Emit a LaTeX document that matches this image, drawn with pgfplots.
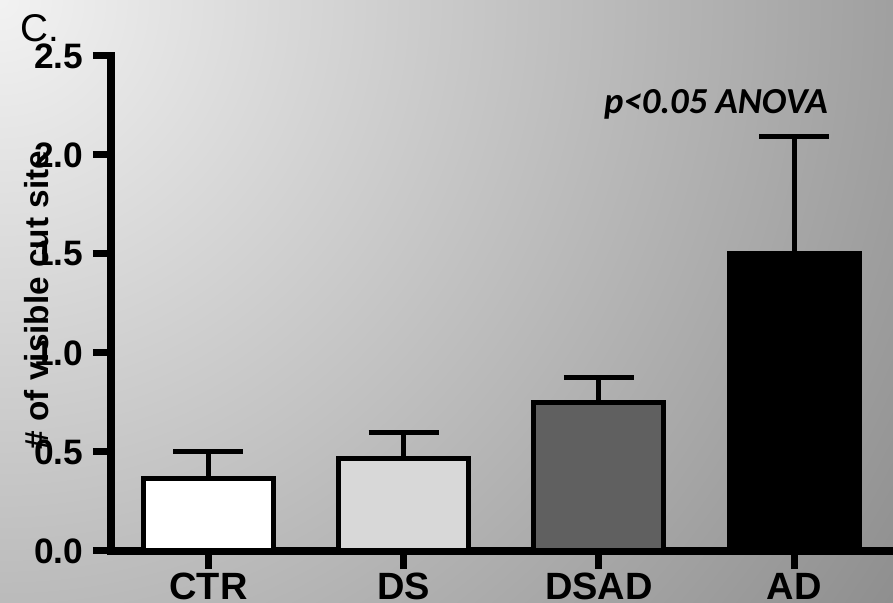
\documentclass[border=0pt]{standalone}
\usepackage{pgfplots}
\pgfplotsset{compat=1.18}
\usepackage{fontspec}
\setmainfont{Liberation Sans}
\newfontfamily\carlito{Carlito}
\definecolor{bgA}{gray}{0.95}
\definecolor{bgB}{gray}{0.56}
\definecolor{dsfill}{HTML}{D8D8D8}
\definecolor{dsadfill}{HTML}{606060}
\begin{document}
\begin{tikzpicture}[x=0.75pt,y=0.75pt]
\useasboundingbox (0,0) rectangle (893,603);
\begin{scope}
\clip (0,0) rectangle (893,603);
\shade[inner color=bgA, outer color=bgB] (-1077,-474) rectangle (1077,1680);
\end{scope}
\begin{axis}[
  at={(83.25pt,39pt)}, anchor=south west,
  scale only axis, width=586.5pt, height=371.25pt,
  clip=false,
  ybar, bar shift=0pt, bar width=0.666,
  xmin=-0.4995, xmax=3.507, ymin=0, ymax=2.5,
  axis lines=left,
  axis line style={-, line width=6pt, line cap=rect, black},
  tick align=outside,
  major tick length=13.5pt,
  xtick={0,1,2,3}, xticklabels={CTR,DS,DSAD,AD},
  ytick={0,0.5,1,1.5,2,2.5},
  xtick style={line width=5.25pt, black},
  ytick style={line width=5.25pt, black},
  /pgf/number format/.cd, fixed, fixed zerofill, precision=1, assume math mode=true,
  /pgfplots/.cd,
  yticklabel style={font=\fontsize{26.5}{28}\selectfont\bfseries, inner sep=0pt, xshift=-7pt},
  xticklabel style={font=\fontsize{28.5}{30}\selectfont\bfseries, inner sep=0pt, yshift=-3pt},
  ylabel={\# of visible cut site},
  ylabel style={at={(axis description cs:-0.0946,0.507)}, anchor=center, font=\fontsize{25}{28}\selectfont\bfseries},
  every axis plot/.append style={line width=3.75pt, draw=black},
  error bars/y dir=plus, error bars/y explicit,
  error bars/error bar style={line width=3.75pt, black},
  error bars/error mark options={rotate=90, mark size=26.25pt, line width=3.75pt, black},
]
\addplot[fill=white] coordinates {(0,0.365) +- (0,0.135)};
\addplot[fill=dsfill] coordinates {(1,0.465) +- (0,0.133)};
\addplot[fill=dsadfill] coordinates {(2,0.75) +- (0,0.126)};
\addplot[fill=black] coordinates {(3,1.5) +- (0,0.593)};
\end{axis}
\node[anchor=base west, inner sep=0pt, font=\fontsize{29}{30}\selectfont] at (20,561) {C.};
\node[anchor=base, inner sep=0pt, font=\fontsize{27.5}{30}\selectfont\carlito\bfseries\itshape] at (716,489) {p<0.05 ANOVA};
\end{tikzpicture}
\end{document}
